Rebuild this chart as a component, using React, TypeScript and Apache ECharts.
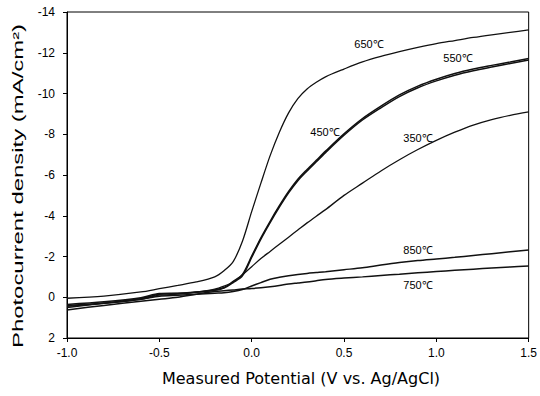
import React, { useEffect, useRef } from "react";
import * as echarts from "echarts";

// Measured potential (V vs. Ag/AgCl) – shared sampling grid
const potential = [-1.0, -0.8, -0.6, -0.5, -0.4, -0.3, -0.2, -0.15, -0.1, -0.05, 0.0, 0.05, 0.1, 0.15, 0.2, 0.25, 0.3, 0.35, 0.4, 0.5, 0.6, 0.7, 0.8, 0.9, 1.0, 1.1, 1.2, 1.3, 1.4, 1.5];

// Photocurrent density (mA/cm2) per annealing temperature
const current650 = [0.05, -0.06, -0.26, -0.42, -0.58, -0.75, -1.0, -1.3, -1.75, -2.75, -4.2, -5.6, -6.95, -8.1, -9.05, -9.75, -10.22, -10.55, -10.82, -11.2, -11.55, -11.82, -12.05, -12.26, -12.45, -12.6, -12.75, -12.88, -13.0, -13.12];
const current550 = [0.35, 0.22, 0.02, -0.18, -0.2, -0.26, -0.36, -0.48, -0.78, -1.12, -2.02, -2.92, -3.73, -4.49, -5.19, -5.79, -6.27, -6.72, -7.17, -8.02, -8.77, -9.38, -9.93, -10.36, -10.7, -10.98, -11.2, -11.38, -11.55, -11.72];
const current450 = [0.4, 0.28, 0.06, -0.15, -0.18, -0.24, -0.34, -0.45, -0.72, -1.05, -1.95, -2.85, -3.66, -4.42, -5.12, -5.72, -6.2, -6.65, -7.1, -7.95, -8.7, -9.3, -9.85, -10.28, -10.62, -10.9, -11.12, -11.3, -11.47, -11.64];
const current350 = [0.45, 0.3, 0.1, -0.1, -0.15, -0.25, -0.4, -0.55, -0.75, -1.1, -1.5, -1.9, -2.25, -2.6, -2.95, -3.3, -3.65, -3.98, -4.3, -5.0, -5.6, -6.2, -6.75, -7.25, -7.7, -8.1, -8.45, -8.72, -8.93, -9.1];
const current850 = [0.5, 0.3, 0.1, -0.05, -0.1, -0.15, -0.2, -0.22, -0.28, -0.38, -0.55, -0.72, -0.88, -0.98, -1.06, -1.12, -1.17, -1.21, -1.25, -1.35, -1.45, -1.58, -1.7, -1.8, -1.88, -1.96, -2.05, -2.14, -2.23, -2.32];
const current750 = [0.62, 0.4, 0.2, 0.1, 0.0, -0.15, -0.28, -0.32, -0.36, -0.4, -0.43, -0.47, -0.52, -0.58, -0.65, -0.7, -0.75, -0.81, -0.87, -0.94, -1.0, -1.07, -1.13, -1.2, -1.26, -1.32, -1.38, -1.44, -1.49, -1.53];

const seriesNames = ["650℃", "550℃", "450℃", "350℃", "850℃", "750℃"];
const seriesValues = [current650, current550, current450, current350, current850, current750];
const seriesWidths = [1.3, 1.5, 1.5, 1.3, 1.5, 1.5];

const xTitle = "Measured Potential (V vs. Ag/AgCl)";
const yTitle = "Photocurrent density (mA/cm²)";

// label placement (pixel anchors for annotations)
const labelPos: [number, number][] = [
  [369, 44],
  [458, 58],
  [325, 132],
  [418, 138],
  [418, 250],
  [418, 285],
];

export default function App() {
  const ref = useRef<HTMLDivElement>(null);
  useEffect(() => {
    if (!ref.current) return;
    const chart = echarts.init(ref.current, undefined, { renderer: "svg" });
    const labelFont = "'Liberation Sans', Arial, sans-serif";
    chart.setOption({
      animation: false,
      backgroundColor: "#fff",
      grid: {
        left: 67,
        right: 9,
        top: 12,
        bottom: 58,
        show: true,
        borderColor: "#000",
        borderWidth: 1,
      },
      xAxis: {
        type: "value",
        min: -1,
        max: 1.5,
        interval: 0.5,
        axisLine: { show: true, onZero: false, lineStyle: { color: "#000", width: 1 } },
        axisTick: { show: true, inside: false, length: 4, lineStyle: { color: "#000" } },
        splitLine: { show: false },
        axisLabel: {
          color: "#000",
          fontFamily: labelFont,
          fontSize: 12,
          margin: 9,
          formatter: (v: number) => v.toFixed(1),
        },
      },
      yAxis: {
        type: "value",
        min: -14,
        max: 2,
        interval: 2,
        inverse: true,
        axisLine: { show: true, onZero: false, lineStyle: { color: "#000", width: 1 } },
        axisTick: { show: true, inside: false, length: 4, lineStyle: { color: "#000" } },
        splitLine: { show: false },
        axisLabel: {
          color: "#000",
          fontFamily: labelFont,
          fontSize: 12,
          margin: 12,
        },
      },
      series: seriesValues.map((vals, i) => ({
        name: seriesNames[i],
        type: "line",
        smooth: 0.3,
        symbol: "none",
        lineStyle: { color: "#111", width: seriesWidths[i] },
        data: potential.map((x, k) => [x, vals[k]]),
      })),
      graphic: [
        ...seriesNames.map((n, i) => ({
          type: "text",
          x: labelPos[i][0],
          y: labelPos[i][1],
          style: {
            text: n,
            fill: "#000",
            font: `11px ${labelFont}`,
            textAlign: "center",
            textVerticalAlign: "middle",
          },
        })),
        {
          type: "text",
          x: 18,
          y: 186,
          rotation: Math.PI / 2,
          scaleX: 1.65,
          style: {
            text: yTitle,
            fill: "#000",
            font: `14.5px ${labelFont}`,
            textAlign: "center",
            textVerticalAlign: "middle",
          },
        },
        {
          type: "text",
          x: 301,
          y: 378,
          style: {
            text: xTitle,
            fill: "#000",
            font: "16px 'DejaVu Sans', Verdana, sans-serif",
            textAlign: "center",
            textVerticalAlign: "middle",
          },
        },
      ],
    });
    return () => chart.dispose();
  }, []);
  return (
    <div
      ref={ref}
      style={{ position: "fixed", left: 0, top: 0, width: 540, height: 396, background: "#fff" }}
    />
  );
}
